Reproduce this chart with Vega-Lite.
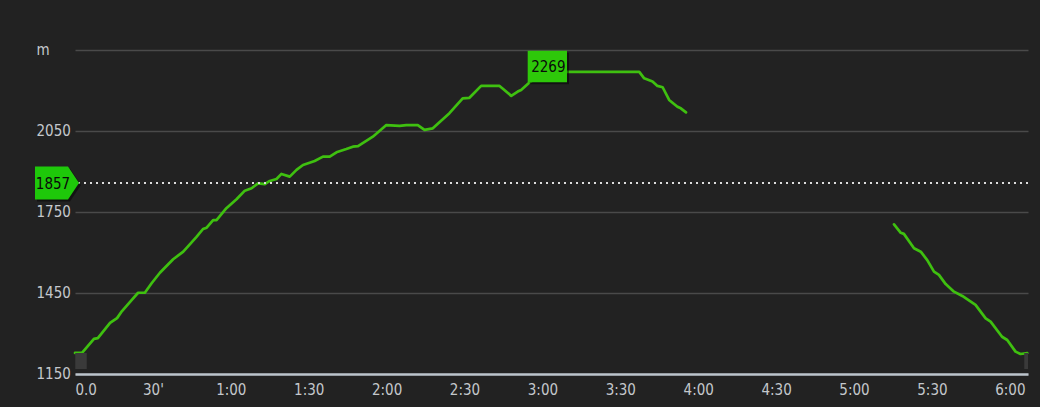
{
  "$schema": "https://vega.github.io/schema/vega-lite/v6.json",
  "width": 953,
  "height": 324,
  "autosize": "none",
  "padding": {"left": 75, "top": 50, "right": 12, "bottom": 33},
  "background": "#222222",
  "config": {"view": {"stroke": null}, "font": "DejaVu Sans Condensed, Liberation Sans, sans-serif"},
  "datasets": {
    "track": [
      {"seg": "a", "t": 0, "e": 1228}, {"seg": "a", "t": 2.7, "e": 1228}, {"seg": "a", "t": 7.3, "e": 1280},
      {"seg": "a", "t": 8.8, "e": 1283}, {"seg": "a", "t": 13.5, "e": 1339}, {"seg": "a", "t": 16.2, "e": 1357},
      {"seg": "a", "t": 18.1, "e": 1383}, {"seg": "a", "t": 21.8, "e": 1424}, {"seg": "a", "t": 24.3, "e": 1451},
      {"seg": "a", "t": 26.9, "e": 1451}, {"seg": "a", "t": 29.5, "e": 1486}, {"seg": "a", "t": 32.7, "e": 1525},
      {"seg": "a", "t": 37.8, "e": 1575}, {"seg": "a", "t": 41.7, "e": 1603}, {"seg": "a", "t": 46.8, "e": 1658},
      {"seg": "a", "t": 49.3, "e": 1687}, {"seg": "a", "t": 50.7, "e": 1692}, {"seg": "a", "t": 53.2, "e": 1720},
      {"seg": "a", "t": 54.5, "e": 1720}, {"seg": "a", "t": 58.3, "e": 1764}, {"seg": "a", "t": 62.2, "e": 1797},
      {"seg": "a", "t": 65.4, "e": 1829}, {"seg": "a", "t": 68.0, "e": 1838}, {"seg": "a", "t": 70.5, "e": 1856},
      {"seg": "a", "t": 73.1, "e": 1853}, {"seg": "a", "t": 75.0, "e": 1865}, {"seg": "a", "t": 77.6, "e": 1872},
      {"seg": "a", "t": 79.5, "e": 1891}, {"seg": "a", "t": 82.7, "e": 1881}, {"seg": "a", "t": 85.3, "e": 1906},
      {"seg": "a", "t": 87.8, "e": 1924}, {"seg": "a", "t": 92.3, "e": 1939}, {"seg": "a", "t": 95.5, "e": 1955},
      {"seg": "a", "t": 98.1, "e": 1955}, {"seg": "a", "t": 100.7, "e": 1971}, {"seg": "a", "t": 104.5, "e": 1983},
      {"seg": "a", "t": 107.0, "e": 1992}, {"seg": "a", "t": 109.0, "e": 1994}, {"seg": "a", "t": 114.7, "e": 2029},
      {"seg": "a", "t": 119.9, "e": 2072}, {"seg": "a", "t": 125.0, "e": 2069}, {"seg": "a", "t": 127.6, "e": 2072},
      {"seg": "a", "t": 132.0, "e": 2072}, {"seg": "a", "t": 134.6, "e": 2054}, {"seg": "a", "t": 137.8, "e": 2060},
      {"seg": "a", "t": 144.2, "e": 2116}, {"seg": "a", "t": 149.3, "e": 2171}, {"seg": "a", "t": 151.9, "e": 2173},
      {"seg": "a", "t": 156.4, "e": 2217}, {"seg": "a", "t": 163.5, "e": 2217}, {"seg": "a", "t": 168.0, "e": 2180},
      {"seg": "a", "t": 170.5, "e": 2196}, {"seg": "a", "t": 171.8, "e": 2202}, {"seg": "a", "t": 175.0, "e": 2230},
      {"seg": "a", "t": 181.9, "e": 2269}, {"seg": "a", "t": 190.4, "e": 2269}, {"seg": "a", "t": 217.3, "e": 2269},
      {"seg": "a", "t": 219.2, "e": 2245}, {"seg": "a", "t": 222.4, "e": 2233}, {"seg": "a", "t": 224.3, "e": 2217},
      {"seg": "a", "t": 226.3, "e": 2212}, {"seg": "a", "t": 228.8, "e": 2165}, {"seg": "a", "t": 232.0, "e": 2140},
      {"seg": "a", "t": 233.3, "e": 2134}, {"seg": "a", "t": 235.3, "e": 2119},
      {"seg": "b", "t": 315.4, "e": 1704}, {"seg": "b", "t": 318.0, "e": 1673}, {"seg": "b", "t": 319.2, "e": 1669},
      {"seg": "b", "t": 323.1, "e": 1616}, {"seg": "b", "t": 325.7, "e": 1603}, {"seg": "b", "t": 328.2, "e": 1572},
      {"seg": "b", "t": 330.8, "e": 1529}, {"seg": "b", "t": 332.7, "e": 1517}, {"seg": "b", "t": 335.3, "e": 1483},
      {"seg": "b", "t": 338.5, "e": 1455}, {"seg": "b", "t": 341.7, "e": 1439}, {"seg": "b", "t": 346.8, "e": 1406},
      {"seg": "b", "t": 350.7, "e": 1356}, {"seg": "b", "t": 352.6, "e": 1344}, {"seg": "b", "t": 357.0, "e": 1288},
      {"seg": "b", "t": 359.0, "e": 1276}, {"seg": "b", "t": 362.2, "e": 1233}, {"seg": "b", "t": 364.1, "e": 1224},
      {"seg": "b", "t": 366.7, "e": 1227}
    ],
    "avg": [{"e": 1857, "label": "1857"}],
    "peak": [{"t": 181.9, "e": 2269, "label": "2269"}],
    "startHandle": [{"t": 0, "e": 1150}],
    "endHandle": [{"t": 367, "e": 1150}]
  },
  "layer": [
    {
      "data": {"name": "track"},
      "mark": {"type": "line", "color": "#3fc010", "strokeWidth": 2.7, "strokeJoin": "round", "strokeCap": "round"},
      "encoding": {
        "x": {
          "field": "t", "type": "quantitative", "title": null,
          "scale": {"domain": [0, 367], "nice": false, "zero": false},
          "axis": {
            "values": [0, 30, 60, 90, 120, 150, 180, 210, 240, 270, 300, 330, 360],
            "title": null, "grid": false, "domain": true, "domainColor": "#bcc4cc", "domainWidth": 2.5,
            "ticks": false, "tickSize": 0, "labelPadding": 20, "labelBaseline": "alphabetic",
            "labelFlush": true, "labelOverlap": false, "labelColor": "#c4c8cc", "labelFontSize": 15,
            "labelFont": "DejaVu Sans Condensed, Liberation Sans, sans-serif",
            "labelExpr": "datum.value == 0 ? '0.0' : datum.value == 30 ? \"30'\" : floor(datum.value / 60) + ':' + (datum.value % 60 == 0 ? '00' : '30')"
          }
        },
        "y": {
          "field": "e", "type": "quantitative", "title": null,
          "scale": {"domain": [1150, 2350], "nice": false, "zero": false},
          "axis": {
            "values": [1150, 1450, 1750, 2050, 2350], "format": "d",
            "title": null, "grid": true, "gridColor": "#4a4a4a", "gridWidth": 1.5,
            "domain": false, "ticks": false, "tickSize": 0,
            "labelAlign": "left", "labelPadding": 39, "labelBaseline": "alphabetic", "labelOffset": 4,
            "labelColor": "#c4c8cc", "labelFontSize": 15, "labelFont": "DejaVu Sans Condensed, Liberation Sans, sans-serif",
            "labelExpr": "datum.value == 2350 ? 'm' : datum.label"
          }
        },
        "detail": {"field": "seg"}
      }
    },
    {
      "data": {"name": "startHandle"},
      "mark": {"type": "point", "shape": "M-0.72,-1L0.72,-1L0.72,1L-0.72,1Z", "size": 256, "filled": true, "fill": "#3a3a3a", "opacity": 1, "strokeWidth": 0, "xOffset": 6, "yOffset": -13},
      "encoding": {
        "x": {"field": "t", "type": "quantitative", "title": null},
        "y": {"field": "e", "type": "quantitative", "title": null}
      }
    },
    {
      "data": {"name": "endHandle"},
      "mark": {"type": "point", "shape": "M-0.72,-1L0.72,-1L0.72,1L-0.72,1Z", "size": 256, "filled": true, "fill": "#3a3a3a", "opacity": 1, "strokeWidth": 0, "xOffset": 2, "yOffset": -13, "clip": true},
      "encoding": {
        "x": {"field": "t", "type": "quantitative", "title": null},
        "y": {"field": "e", "type": "quantitative", "title": null}
      }
    },
    {
      "data": {"name": "avg"},
      "mark": {"type": "rule", "color": "#dddddd", "strokeWidth": 2, "strokeDash": [2, 4]},
      "encoding": {
        "y": {"field": "e", "type": "quantitative", "title": null}
      }
    },
    {
      "data": {"name": "avg"},
      "mark": {"type": "point", "shape": "M-1,-0.75L0.5,-0.75L1,0L0.5,0.75L-1,0.75Z", "size": 1936, "filled": true, "fill": "#000000", "opacity": 0.45, "strokeWidth": 0, "xOffset": -16, "yOffset": 2},
      "encoding": {
        "x": {"datum": 0, "type": "quantitative", "title": null},
        "y": {"field": "e", "type": "quantitative", "title": null}
      }
    },
    {
      "data": {"name": "avg"},
      "mark": {"type": "point", "shape": "M-1,-0.75L0.5,-0.75L1,0L0.5,0.75L-1,0.75Z", "size": 1936, "filled": true, "fill": "#1ec80a", "opacity": 1, "strokeWidth": 0, "xOffset": -18},
      "encoding": {
        "x": {"datum": 0, "type": "quantitative", "title": null},
        "y": {"field": "e", "type": "quantitative", "title": null}
      }
    },
    {
      "data": {"name": "avg"},
      "mark": {"type": "text", "color": "#0a0a0a", "fontSize": 15, "align": "center", "baseline": "middle", "dx": -22, "dy": 1},
      "encoding": {
        "x": {"datum": 0, "type": "quantitative", "title": null},
        "y": {"field": "e", "type": "quantitative", "title": null},
        "text": {"field": "label"}
      }
    },
    {
      "data": {"name": "peak"},
      "mark": {"type": "point", "shape": "M-1,-0.8L1,-0.8L1,0.8L-1,0.8Z", "size": 1544, "filled": true, "fill": "#000000", "opacity": 0.45, "strokeWidth": 0, "xOffset": 2, "yOffset": -3.4},
      "encoding": {
        "x": {"field": "t", "type": "quantitative", "title": null},
        "y": {"field": "e", "type": "quantitative", "title": null}
      }
    },
    {
      "data": {"name": "peak"},
      "mark": {"type": "point", "shape": "M-1,-0.8L1,-0.8L1,0.8L-1,0.8Z", "size": 1544, "filled": true, "fill": "#2ec80a", "opacity": 1, "strokeWidth": 0, "yOffset": -5.4},
      "encoding": {
        "x": {"field": "t", "type": "quantitative", "title": null},
        "y": {"field": "e", "type": "quantitative", "title": null}
      }
    },
    {
      "data": {"name": "peak"},
      "mark": {"type": "text", "color": "#0a0a0a", "fontSize": 15, "align": "center", "baseline": "middle", "dx": 1, "dy": -5},
      "encoding": {
        "x": {"field": "t", "type": "quantitative", "title": null},
        "y": {"field": "e", "type": "quantitative", "title": null},
        "text": {"field": "label"}
      }
    }
  ]
}
